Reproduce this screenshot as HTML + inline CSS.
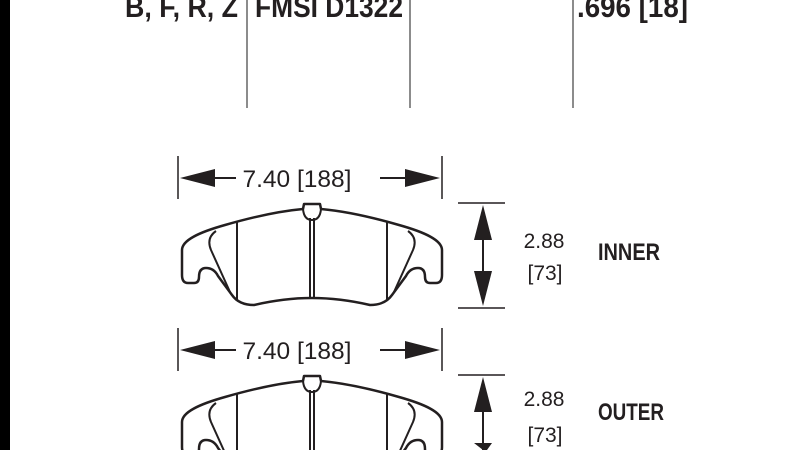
<!DOCTYPE html>
<html><head><style>
html,body{margin:0;padding:0;background:#fff;width:800px;height:450px;overflow:hidden;}
svg{display:block;overflow:hidden;}
.t{font-family:"Liberation Sans Narrow","Liberation Sans",sans-serif;font-weight:bold;fill:#231f20;}
.d{font-family:"Liberation Sans",sans-serif;fill:#231f20;}
</style></head><body>
<svg width="800" height="450" viewBox="0 0 800 450" xmlns="http://www.w3.org/2000/svg">
<rect x="0" y="0" width="10" height="450" fill="#000"/>
<text class="t" x="125" y="17" font-size="30" textLength="113" lengthAdjust="spacingAndGlyphs">B, F, R, Z</text>
<text class="t" x="255" y="17" font-size="30" textLength="148" lengthAdjust="spacingAndGlyphs">FMSI D1322</text>
<text class="t" x="577" y="17" font-size="30" textLength="111" lengthAdjust="spacingAndGlyphs">.696 [18]</text>
<g stroke="#666" stroke-width="1.5">
<line x1="247" y1="0" x2="247" y2="108"/><line x1="410" y1="0" x2="410" y2="108"/><line x1="573" y1="0" x2="573" y2="108"/>
</g>
<defs>
<g id="pad" fill="none" stroke="#231f20" stroke-width="2.5" stroke-linejoin="round">
<path d="M182,250 C182,240 200,232 225,225 Q270,212 303,209 L304,204 L320,204 L321,209 Q354,212 399,225 C424,232 442,240 442,250 L442,275 Q442,283 436,283 L430,283 Q425,283 425,277 Q425,268 418,268 Q410,268 406,276 L392,295 Q385,305 370,305 Q340,298 312,298 Q284,298 254,305 Q239,305 232,295 L218,276 Q214,268 206,268 Q199,268 199,277 Q199,283 194,283 L188,283 Q182,283 182,275 Z"/>
<path d="M216,231 Q206,238 211,250 L230,292" stroke-width="2"/>
<path d="M408,231 Q418,238 413,250 L394,292" stroke-width="2"/>
<line x1="237" y1="222" x2="237" y2="300" stroke-width="2"/>
<line x1="387" y1="222" x2="387" y2="300" stroke-width="2"/>
<line x1="310" y1="218" x2="310" y2="298" stroke-width="2"/>
<line x1="314" y1="218" x2="314" y2="298" stroke-width="2"/>
<path d="M303,209 Q304,220 312,220 Q320,220 321,209" stroke-width="2"/>
</g>
<g id="hdim">
<line x1="178" y1="0" x2="178" y2="43" stroke="#231f20" stroke-width="1.5"/>
<line x1="442" y1="0" x2="442" y2="43" stroke="#231f20" stroke-width="1.5"/>
<line x1="200" y1="22" x2="236" y2="22" stroke="#231f20" stroke-width="2"/>
<polygon points="180,22 215,13 215,31" fill="#231f20"/>
<line x1="380" y1="22" x2="420" y2="22" stroke="#231f20" stroke-width="2"/>
<polygon points="440,22 405,13 405,31" fill="#231f20"/>
<text class="d" x="297" y="31" font-size="24" text-anchor="middle" textLength="109" lengthAdjust="spacingAndGlyphs">7.40 [188]</text>
</g>
</defs>
<use href="#hdim" x="0" y="156"/>
<use href="#pad" x="0" y="0"/>
<use href="#hdim" x="0" y="328"/>
<use href="#pad" x="0" y="172"/>
<g stroke="#231f20" stroke-width="1.5">
<line x1="458" y1="203" x2="505" y2="203"/><line x1="458" y1="308" x2="505" y2="308"/>
<line x1="458" y1="375" x2="505" y2="375"/>
</g>
<line x1="483" y1="220" x2="483" y2="290" stroke="#231f20" stroke-width="2"/>
<polygon points="483,205 474,240 492,240" fill="#231f20"/>
<polygon points="483,306 474,271 492,271" fill="#231f20"/>
<line x1="483" y1="392" x2="483" y2="450" stroke="#231f20" stroke-width="2"/>
<polygon points="483,377 474,412 492,412" fill="#231f20"/>
<polygon points="483,450 474,443 492,443 487,450" fill="#231f20"/>
<text class="d" x="544" y="248" font-size="21" text-anchor="middle">2.88</text>
<text class="d" x="545" y="280" font-size="21" text-anchor="middle">[73]</text>
<text class="t" x="598" y="260" font-size="24" textLength="62" lengthAdjust="spacingAndGlyphs">INNER</text>
<text class="d" x="544" y="406" font-size="21" text-anchor="middle">2.88</text>
<text class="d" x="545" y="442" font-size="21" text-anchor="middle">[73]</text>
<text class="t" x="598" y="420" font-size="24" textLength="66" lengthAdjust="spacingAndGlyphs">OUTER</text>
</svg>
</body></html>
